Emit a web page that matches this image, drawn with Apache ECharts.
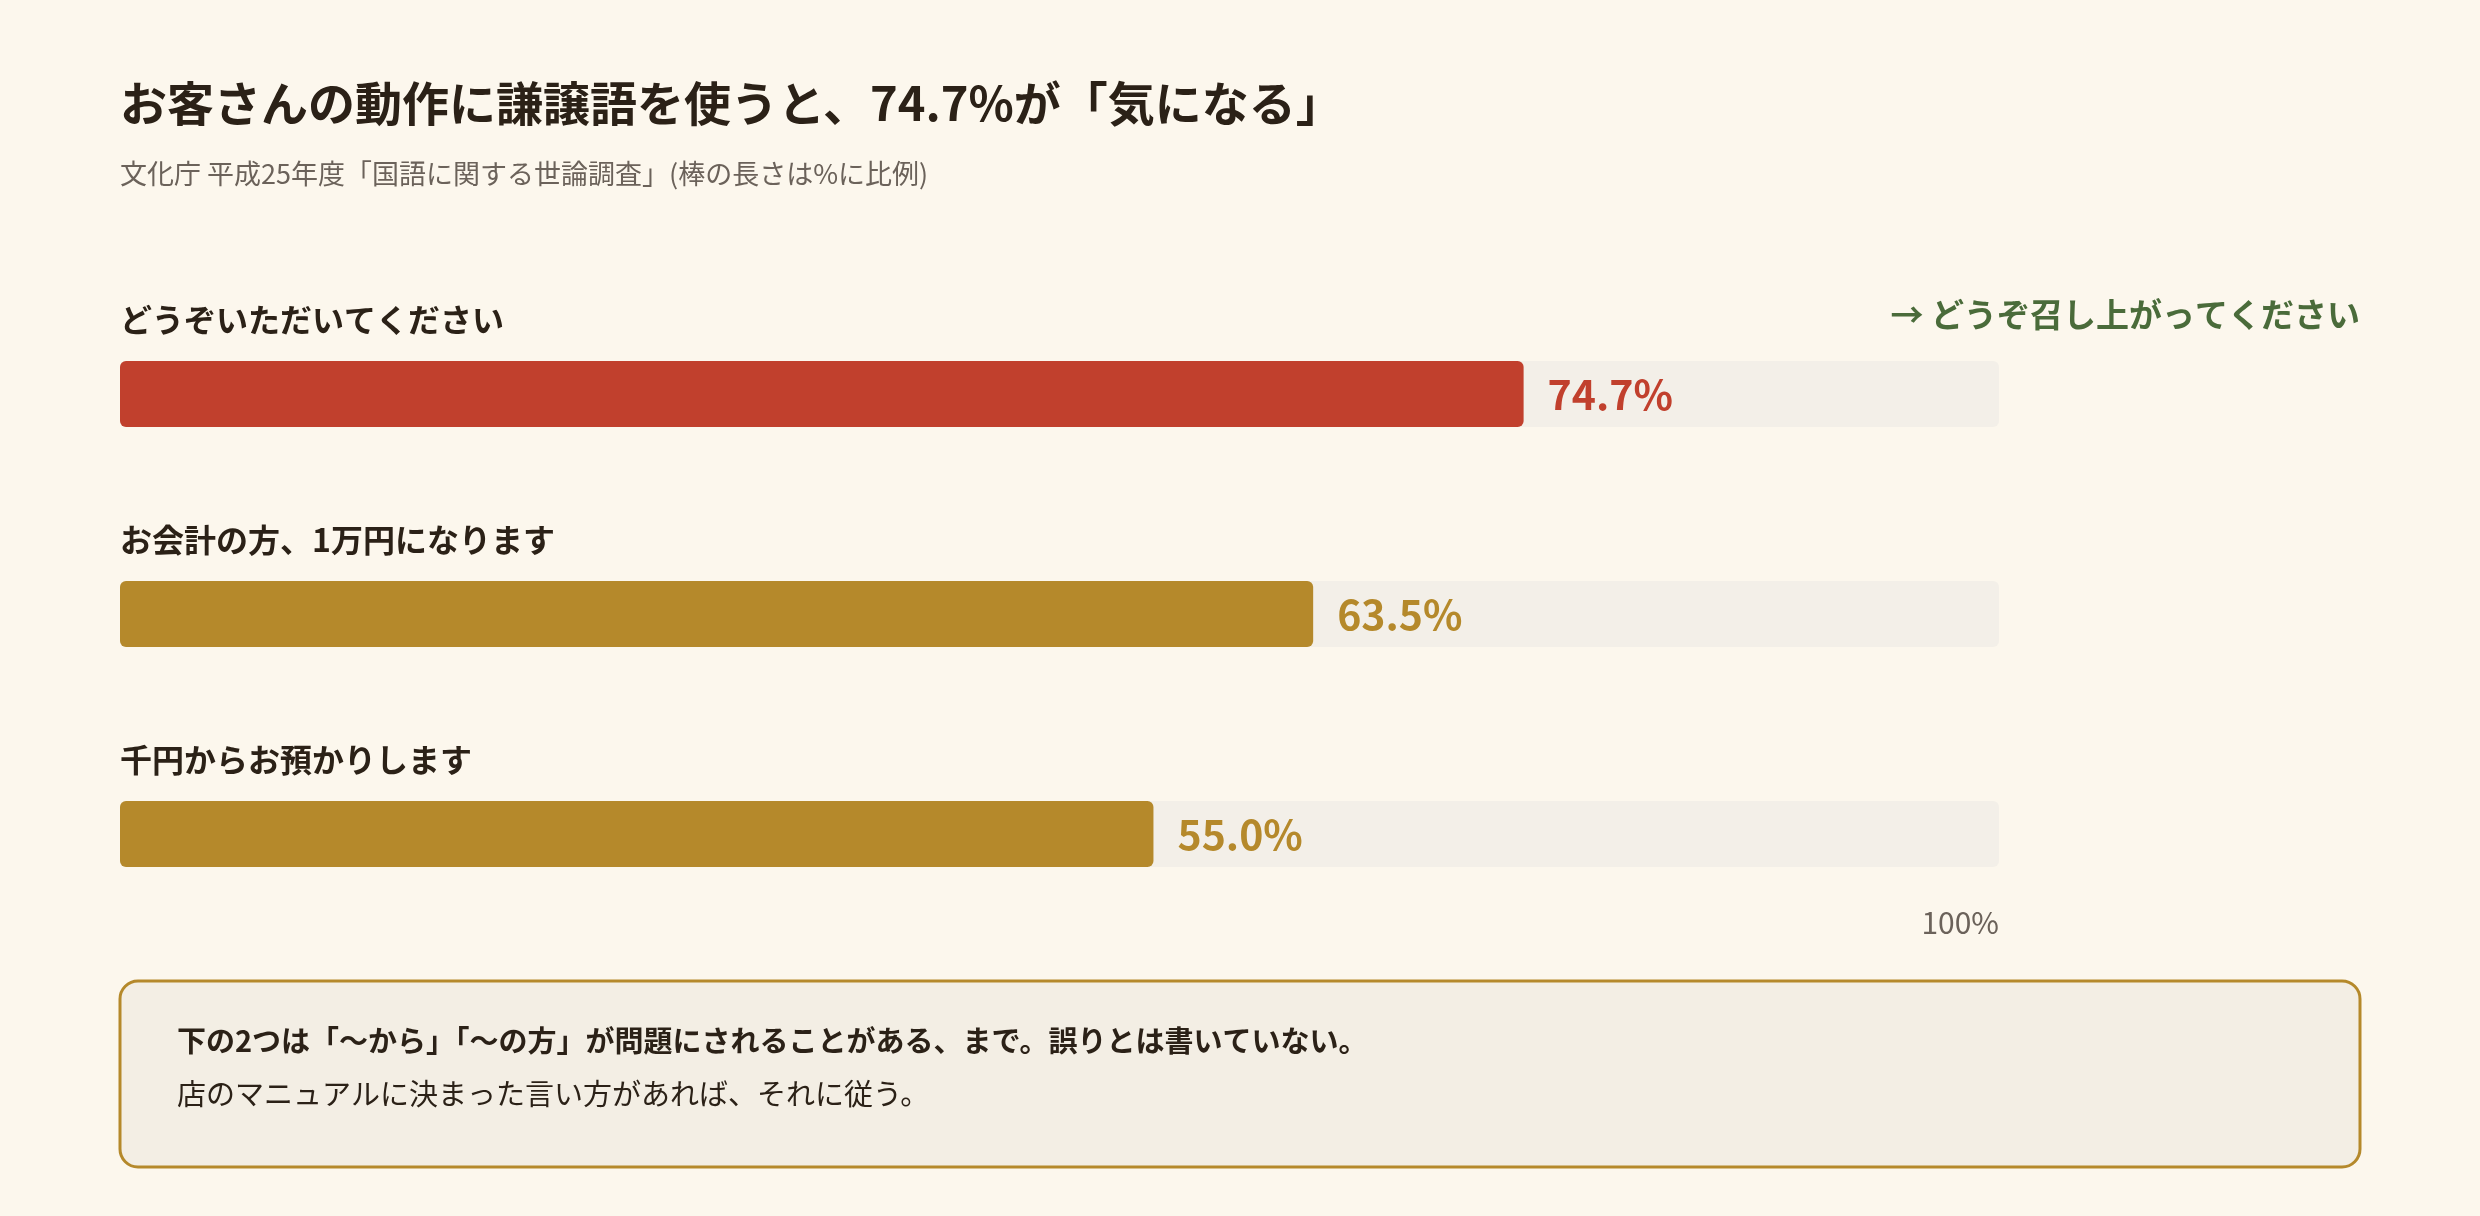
<!DOCTYPE html>
<html><head><meta charset="utf-8">
<script src="https://cdn.jsdelivr.net/npm/echarts@6/dist/echarts.min.js"></script>
<style>html,body{margin:0;background:#fcf7ed}#c{width:2480px;height:1216px}</style>
</head><body><div id="c"></div>
<script>
var categories = ["どうぞいただいてください", "お会計の方、1万円になります", "千円からお預かりします"];
var values = [74.7, 63.5, 55.0];
var barColors = ["#c1402d", "#b5892b", "#b5892b"];
var font = "'Noto Sans CJK JP', 'Noto Sans', sans-serif";
var dark = "#2b2117";

var chart = echarts.init(document.getElementById("c"));
chart.setOption({
    backgroundColor: "#fcf7ed",
    textStyle: { fontFamily: font },
    grid: { left: 120, right: 481, top: 284, bottom: 272 },
    xAxis: { type: "value", min: 0, max: 100, show: false },
    yAxis: {
        type: "category",
        inverse: true,
        data: categories,
        axisLine: { show: false },
        axisTick: { show: false },
        axisLabel: {
            inside: true,
            margin: 0,
            align: "left",
            verticalAlign: "bottom",
            padding: [0, 0, 58, 0],
            color: dark,
            fontSize: 32,
            fontWeight: "bold",
            fontFamily: font
        }
    },
    series: [{
        type: "bar",
        barWidth: 66,
        data: values.map(function (v, i) {
            return { value: v, itemStyle: { color: barColors[i] }, label: { color: barColors[i] } };
        }),
        itemStyle: { borderRadius: 6 },
        showBackground: true,
        backgroundStyle: { color: "#f3efe8", borderRadius: 6 },
        label: {
            show: true,
            position: "right",
            distance: 24,
            fontSize: 41,
            fontWeight: "bold",
            fontFamily: font,
            formatter: function (p) { return p.value.toFixed(1) + "%"; }
        }
    }],
    graphic: [
        { type: "text", left: 120, top: 80, style: { text: "お客さんの動作に謙譲語を使うと、74.7%が「気になる」", font: "bold 47px " + font, fill: dark } },
        { type: "text", left: 120, top: 160, style: { text: "文化庁 平成25年度「国語に関する世論調査」(棒の長さは%に比例)", font: "27px " + font, fill: "#6b625a" } },
        { type: "text", right: 120, top: 298, style: { text: "→ どうぞ召し上がってください", font: "bold 33px " + font, fill: "#4a6b3a" } },
        { type: "text", right: 481, top: 908, style: { text: "100%", font: "30px " + font, fill: "#6b625a" } },
        { type: "rect", shape: { x: 120, y: 981, width: 2240, height: 186, r: 18 }, style: { fill: "#f3eee4", stroke: "#b5892b", lineWidth: 3 } },
        { type: "text", left: 177, top: 1026, style: { text: "下の2つは「〜から」「〜の方」が問題にされることがある、まで。誤りとは書いていない。", font: "bold 29px " + font, fill: dark } },
        { type: "text", left: 177, top: 1079, style: { text: "店のマニュアルに決まった言い方があれば、それに従う。", font: "29px " + font, fill: dark } }
    ]
});
</script></body></html>
